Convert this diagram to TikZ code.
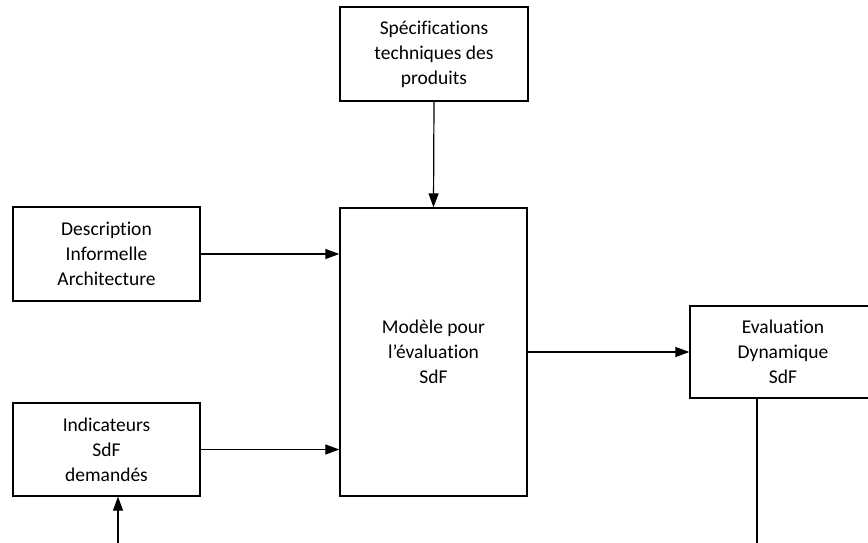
\documentclass[tikz,border=0pt]{standalone}
\usepackage{fontspec}
\setmainfont{Carlito}[Ligatures=NoCommon]
\usetikzlibrary{arrows.meta}
\begin{document}
\begin{tikzpicture}[x=1pt,y=-1pt,
  blockbox/.style={draw, line width=1.3pt, fill=white, align=center, inner sep=0pt,
    font=\fontsize{19.5}{25}\selectfont},
  flow/.style={line width=1.2pt, -{Triangle[length=14pt,width=10pt]}},
  plain/.style={line width=1.2pt}]
  \clip (0,0) rectangle (868,542);
  \fill[white] (0,0) rectangle (868,542);

  % blocks
  \node[blockbox, minimum width=188pt, minimum height=94pt] (spec) at (434,54)
    {Spécifications\\techniques des\\produits};
  \node[blockbox, minimum width=187pt, minimum height=288pt] (model) at (433.5,352)
    {Modèle pour\\l’évaluation\\SdF};
  \node[blockbox, minimum width=187pt, minimum height=94pt] (desc) at (106.5,254)
    {Description\\Informelle\\Architecture};
  \node[blockbox, minimum width=187pt, minimum height=93pt] (ind) at (106.5,449.5)
    {Indicateurs\\SdF\\demandés};
  \node[blockbox, minimum width=186pt, minimum height=92pt] (eval) at (783,352)
    {Evaluation\\Dynamique\\SdF};

  % loose ends at the bottom edge
  \coordinate (indin) at (118,545);
  \coordinate (evalout) at (757,545);

  % connectors
  \draw[flow] (spec.south) -- (model.north);
  \draw[flow] (desc.east) -- (desc.east -| model.west);
  \draw[flow] (ind.east) -- (ind.east -| model.west);
  \draw[flow] (model.east) -- (eval.west);
  \draw[flow] (indin) -- (indin |- ind.south);
  \draw[plain] (evalout |- eval.south) -- (evalout);
\end{tikzpicture}
\end{document}
